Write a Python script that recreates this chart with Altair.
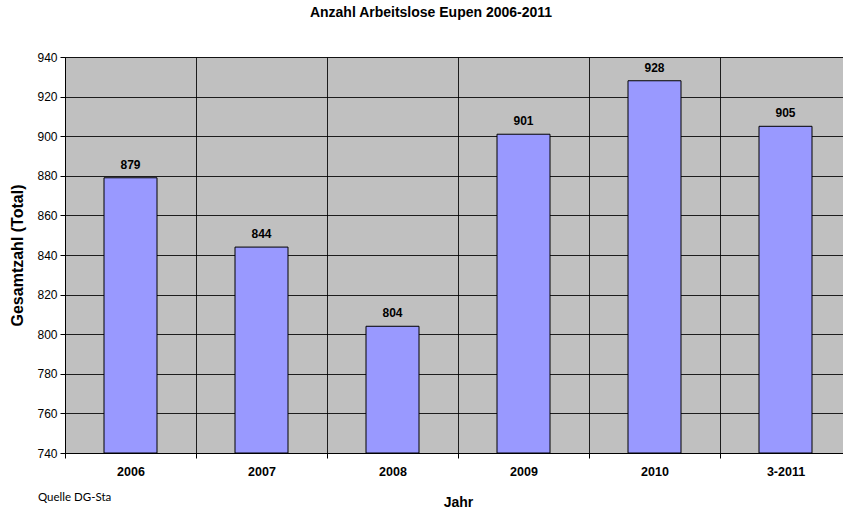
import altair as alt
import pandas as pd

years = ["2006", "2007", "2008", "2009", "2010", "3-2011"]
values = [879, 844, 804, 901, 928, 905]
y_ticks = [740, 760, 780, 800, 820, 840, 860, 880, 900, 920, 940]
y_base = 740

df = pd.DataFrame({"Jahr": years, "Total": values})

FONT = "Liberation Sans"

x_enc = alt.X(
    "Jahr:N",
    sort=years,
    title="Jahr",
    scale=alt.Scale(range=[0, 786], paddingInner=0, paddingOuter=0),
    axis=alt.Axis(
        tickBand="extent",
        grid=True,
        gridColor="#000000",
        gridWidth=1,
        gridOpacity=0.85,
        domainColor="#000000",
        tickColor="#000000",
        tickSize=5,
        labelAngle=0,
        labelFont=FONT,
        labelFontSize=12.5,
        labelFontWeight="bold",
        labelColor="#000000",
        labelPadding=7,
        titleFont=FONT,
        titleFontSize=14,
        titleFontWeight="bold",
        titleColor="#000000",
        titlePadding=18,
    ),
)
y_enc = alt.Y(
    "Total:Q",
    title="Gesamtzahl (Total)",
    scale=alt.Scale(domain=[740, 940], nice=False, zero=False),
    axis=alt.Axis(
        values=y_ticks,
        labelOverlap=False,
        grid=True,
        gridColor="#000000",
        gridWidth=1,
        gridOpacity=0.85,
        domainColor="#000000",
        tickColor="#000000",
        tickSize=5,
        labelFont=FONT,
        labelFontSize=12,
        labelColor="#000000",
        labelPadding=3,
        titleFont=FONT,
        titleFontSize=16,
        titleFontWeight="bold",
        titleColor="#000000",
        titlePadding=11,
    ),
)

bars = alt.Chart(df).mark_bar(
    size=53, color="#9999FF", stroke="#000000", strokeWidth=1
).encode(x=x_enc, y=y_enc, y2=alt.datum(y_base))

labels = alt.Chart(df).mark_text(
    baseline="bottom", dy=-6, font=FONT, fontSize=12, fontWeight="bold", color="#000000"
).encode(
    x=x_enc,
    y=y_enc,
    text=alt.Text("Total:Q"),
)

source = alt.Chart(pd.DataFrame({"t": ["Quelle DG-Sta"]})).mark_text(
    align="left", baseline="middle", font="Lato", fontSize=11.5, color="#000000"
).encode(x=alt.value(-27), y=alt.value(45 + 396), text="t:N")

chart = (
    alt.layer(bars, labels, source)
    .properties(
        width=778,
        height=396,
        autosize=alt.AutoSizeParams(type="none"),
        padding={"left": 65, "top": 57, "right": 0, "bottom": 58},
        view=alt.ViewBackground(fill="#C0C0C0", stroke="#808080", strokeWidth=1),
        title=alt.TitleParams(
            "Anzahl Arbeitslose Eupen 2006-2011",
            font=FONT,
            fontSize=14,
            fontWeight="bold",
            color="#000000",
            anchor="middle",
            dx=-23,
            offset=31,
        ),
    )
    .configure(background="#FFFFFF")
)

chart.save("out.html", embed_options={"renderer": "svg", "actions": False})
